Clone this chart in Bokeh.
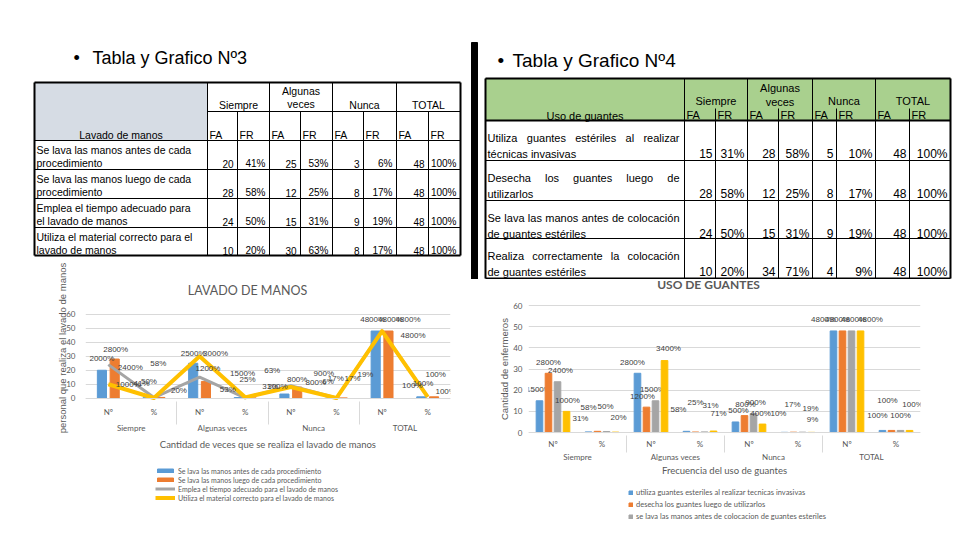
import math
from bokeh.plotting import figure
from bokeh.models import (Range1d, FactorRange, FixedTicker, Label, Legend,
                          LegendItem, ColumnDataSource)
from bokeh.transform import dodge
from bokeh.layouts import row, column
from bokeh.core.properties import value
from bokeh.embed import file_html
from bokeh.resources import INLINE

# ---------------- data ----------------
grupos = ["Siempre", "Algunas veces", "Nunca", "TOTAL"]
grupos_tabla = [["Siempre"], ["Algunas", "veces"], ["Nunca"], ["TOTAL"]]
subcats = ["Nº", "%"]
col_heads = ["FA", "FR"]

titulo3 = "Tabla y Grafico Nº3"
titulo4 = "Tabla y Grafico Nº4"

lav_header = "Lavado de manos"
lav_rows = [
    ["Se lava las manos antes de cada", "procedimiento"],
    ["Se lava las manos luego de cada", "procedimiento"],
    ["Emplea el tiempo adecuado para", "el lavado de manos"],
    ["Utiliza el material correcto para el", "lavado de manos"],
]
lav_series = [
    "Se lava las manos antes de cada procedimiento",
    "Se lava las manos luego de cada procedimiento",
    "Emplea el tiempo adecuado para el lavado de manos",
    "Utiliza el material correcto para el lavado de manos",
]
lav_siempre_fa = [20, 28, 24, 10]
lav_siempre_fr = [41, 58, 50, 20]
lav_algunas_fa = [25, 12, 15, 30]
lav_algunas_fr = [53, 25, 31, 63]
lav_nunca_fa = [3, 8, 9, 8]
lav_nunca_fr = [6, 17, 19, 17]
lav_total_fa = [48, 48, 48, 48]
lav_total_fr = [100, 100, 100, 100]
lav_chart_title = "LAVADO DE MANOS"
lav_ylabel = "personal que realiza el lavado de manos"
lav_xlabel = "Cantidad de veces que se realiza el lavado de manos"

guan_header = "Uso de guantes"
guan_rows = [
    ["Utiliza guantes estériles al realizar", "técnicas invasivas"],
    ["Desecha los guantes luego de", "utilizarlos"],
    ["Se lava las manos antes de colocación", "de guantes estériles"],
    ["Realiza correctamente la colocación", "de guantes estériles"],
]
guan_series = [
    "utiliza guantes esteriles al realizar tecnicas invasivas",
    "desecha los guantes luego de utilizarlos",
    "se lava las manos antes de colocacion de guantes esteriles",
    "realiza correctamente la colocacion de guantes esteriles",
]
guan_siempre_fa = [15, 28, 24, 10]
guan_siempre_fr = [31, 58, 50, 20]
guan_algunas_fa = [28, 12, 15, 34]
guan_algunas_fr = [58, 25, 31, 71]
guan_nunca_fa = [5, 8, 9, 4]
guan_nunca_fr = [10, 17, 19, 9]
guan_total_fa = [48, 48, 48, 48]
guan_total_fr = [100, 100, 100, 100]
guan_chart_title = "USO DE GUANTES"
guan_ylabel = "Cantidad de enfermeros"
guan_xlabel = "Frecuencia del uso de guantes"

y_ticks = [0, 10, 20, 30, 40, 50, 60]

# ---------------- styles ----------------
BLUE, ORANGE, GRAY, YELLOW = "#5b9bd5", "#ed7d31", "#a5a5a5", "#ffc000"
SERIES_COLORS = [BLUE, ORANGE, GRAY, YELLOW]
TXT = "#595959"
ARIAL = value("Liberation Sans")
NBSP = "\u00a0"

# data-label offsets in pixels (dx, dy) per series, per category
lav_lbl_off = [
    [(0, -12), (-6, -14), (0, -10), (-11, -8), (-7, -8), (-2, -17), (-3, -12), (-9, -11)],
    [(1, -10), (-2, -34), (2, -13), (-4, -18), (0, -8), (-7, -20), (2, -12), (-11, -13)],
    [(22, 3), (-5, -16), (43, -4), (25, -11), (33, -12), (29, -23), (26, -12), (8, -22)],
    [(20, 0), (25, -7), (16, -3), (27, -27), (25, -5), (16, -20), (31, 4), (18, -5)],
]
guan_lbl_off = [
    [(-1, -11), (-8, -13), (-5, -11), (-8, -22), (3, -11), (-6, -19), (-10, -11), (-5, -15)],
    [(0, -11), (-9, -24), (-4, -11), (0, -30), (1, -11), (-1, -28), (-5, -11), (-4, -30)],
    [(3, -11), (-1, -25), (-3, -11), (6, -26), (2, -11), (8, -24), (2, -11), (0, -15)],
    [(1, -11), (3, -15), (4, -12), (5, -18), (-2, -11), (1, -13), (10, -11), (3, -26)],
]

# Arial-like advance widths (em) for justification
AW = dict(zip("abcdefghijklmnopqrstuvwxyz",
              [.556, .556, .5, .556, .556, .278, .556, .556, .222, .222, .5, .222, .833,
               .556, .556, .556, .556, .333, .5, .278, .556, .5, .722, .5, .5, .5]))
AW.update({" ": .278, "é": .556, "á": .556, "ó": .556, "í": .278, "S": .667,
           "U": .722, "D": .722, "R": .722})


def tw(s, fs):
    return sum(AW.get(c, .6) for c in s) * fs


def canvas(x0, x1, y0, y1):
    p = figure(x_range=Range1d(x0, x1), y_range=Range1d(y1, y0),
               width=x1 - x0, height=y1 - y0, output_backend="svg",
               toolbar_location=None, min_border=0, x_axis_type=None,
               y_axis_type=None, outline_line_color=None, frame_align=False)
    p.grid.visible = False
    return p


def hline(p, y, x0, x1, w=1):
    p.segment(x0=[x0], y0=[y], x1=[x1], y1=[y], line_color="black", line_width=w)


def vline(p, x, y0, y1, w=1):
    p.segment(x0=[x], y0=[y0], x1=[x], y1=[y1], line_color="black", line_width=w)


# ================= left top: title + table 3 =================
lt = canvas(0, 470, 0, 258)
lt.text(x=[73], y=[57], text=["•"], text_font=ARIAL, text_font_size="18px",
        text_baseline="middle")
lt.text(x=[92], y=[57], text=[titulo3], text_font=ARIAL, text_font_size="18px",
        text_baseline="middle")

c3 = [34, 207, 237, 269, 300, 332, 363, 396, 428, 460]
r3 = [82, 111, 140, 169, 198, 227, 255]
lt.quad(left=[c3[0]], right=[c3[1]], top=[r3[0]], bottom=[r3[2]], color="#d6dce4")
for y in r3[2:-1]:
    hline(lt, y, c3[0], c3[-1])
hline(lt, r3[1], c3[1], c3[-1])
hline(lt, r3[0], c3[0], c3[-1], 2)
hline(lt, r3[-1], c3[0], c3[-1], 2)
vline(lt, c3[0], r3[0], r3[-1], 2)
vline(lt, c3[-1], r3[0], r3[-1], 2)
for k in (1, 3, 5, 7):
    vline(lt, c3[k], r3[0], r3[-1])
for k in (2, 4, 6, 8):
    vline(lt, c3[k], r3[1], r3[-1])

for g, lines in enumerate(grupos_tabla):
    cx = (c3[1 + 2 * g] + c3[3 + 2 * g]) / 2
    if len(lines) == 1:
        lt.text(x=[cx], y=[104], text=lines, text_font=ARIAL, text_font_size="10.5px",
                text_align="center", text_baseline="middle")
    else:
        lt.text(x=[cx, cx], y=[90, 103], text=lines, text_font=ARIAL,
                text_font_size="10.5px", text_align="center", text_baseline="middle")
lt.text(x=[(c3[0] + c3[1]) / 2], y=[134], text=[lav_header], text_font=ARIAL,
        text_font_size="10.5px", text_align="center", text_baseline="middle")
lt.text(x=[c3[j + 1] + 2 for j in range(8)], y=[134] * 8,
        text=[col_heads[j % 2] for j in range(8)], text_font=ARIAL,
        text_font_size="10.5px", text_baseline="middle")
xs, ys, ts = [], [], []
for i, (l1, l2) in enumerate(lav_rows):
    top = r3[i + 2]
    xs += [36, 36]
    ys += [top + 9, top + 22]
    ts += [l1, l2]
lt.text(x=xs, y=ys, text=ts, text_font=ARIAL, text_font_size="10.5px",
        text_baseline="middle")
lav_cols = [lav_siempre_fa, lav_siempre_fr, lav_algunas_fa, lav_algunas_fr,
            lav_nunca_fa, lav_nunca_fr, lav_total_fa, lav_total_fr]
xs, ys, ts = [], [], []
for j, arr in enumerate(lav_cols):
    for i, v in enumerate(arr):
        xs.append(c3[j + 2] - 4)
        ys.append(r3[i + 2] + 23)
        ts.append(f"{v}%" if j % 2 else str(v))
lt.text(x=xs, y=ys, text=ts, text_font=ARIAL, text_font_size="10px",
        text_align="right", text_baseline="middle")

# ================= right top: title + table 4 =================
rt = canvas(470, 960, 0, 279)
rt.quad(left=[471], right=[477], top=[42], bottom=[279], color="black")
rt.text(x=[497], y=[60], text=["•"], text_font=ARIAL, text_font_size="19px",
        text_baseline="middle")
rt.text(x=[512], y=[60], text=[titulo4], text_font=ARIAL, text_font_size="19px",
        text_baseline="middle")

c4 = [485, 684, 715, 747, 778, 812, 836, 875, 909, 950]
r4 = [78, 120, 160, 200, 238, 278]
rt.quad(left=[c4[0]], right=[c4[-1]], top=[r4[0]], bottom=[r4[1]], color="#a9d08e")
for y in r4[2:-1]:
    hline(rt, y, c4[0], c4[-1])
for y in (r4[0], r4[1], r4[-1]):
    hline(rt, y, c4[0], c4[-1], 2)
vline(rt, c4[0], r4[0], r4[-1], 2)
vline(rt, c4[-1], r4[0], r4[-1], 2)
for k in (1, 3, 5, 7):
    vline(rt, c4[k], r4[0], r4[-1])
for k in (2, 4, 6, 8):
    vline(rt, c4[k], 108, r4[-1])

for g, lines in enumerate(grupos_tabla):
    cx = (c4[1 + 2 * g] + c4[3 + 2 * g]) / 2
    if len(lines) == 1:
        rt.text(x=[cx], y=[100], text=lines, text_font=ARIAL, text_font_size="11px",
                text_align="center", text_baseline="middle")
    else:
        rt.text(x=[cx, cx], y=[87, 101], text=lines, text_font=ARIAL,
                text_font_size="11px", text_align="center", text_baseline="middle")
rt.text(x=[(c4[0] + c4[1]) / 2], y=[115], text=[guan_header], text_font=ARIAL,
        text_font_size="11px", text_align="center", text_baseline="middle")
rt.text(x=[c4[j + 1] + 2 for j in range(8)], y=[114] * 8,
        text=[col_heads[j % 2] for j in range(8)], text_font=ARIAL,
        text_font_size="11px", text_baseline="middle")

FS4 = 11
xs, ys, ts = [], [], []
jx0, jx1 = 487, 679
for i, (l1, l2) in enumerate(guan_rows):
    top = r4[i + 1]
    words = l1.split()
    wsum = sum(tw(w, FS4) for w in words)
    gap = (jx1 - jx0 - wsum) / (len(words) - 1)
    x = jx0
    for w in words:
        xs.append(x)
        ys.append(top + 17)
        ts.append(w)
        x += tw(w, FS4) + gap
    xs.append(jx0)
    ys.append(top + 33)
    ts.append(l2)
rt.text(x=xs, y=ys, text=ts, text_font=ARIAL, text_font_size=f"{FS4}px",
        text_baseline="middle")
guan_cols = [guan_siempre_fa, guan_siempre_fr, guan_algunas_fa, guan_algunas_fr,
             guan_nunca_fa, guan_nunca_fr, guan_total_fa, guan_total_fr]
xs, ys, ts = [], [], []
for j, arr in enumerate(guan_cols):
    for i, v in enumerate(arr):
        xs.append(c4[j + 2] - 3)
        ys.append(r4[i + 1] + 33)
        ts.append(f"{v}%" if j % 2 else str(v))
rt.text(x=xs, y=ys, text=ts, text_font=ARIAL, text_font_size="12px",
        text_align="right", text_baseline="middle")

# ================= charts =================
factors = [(g, s) for g in grupos for s in subcats]


def serie(cols, i):
    return [arr[i] / 100 if j % 2 else arr[i] for j, arr in enumerate(cols)]


def fmt(v):
    return f"{round(v * 100):d}%"


def chart(width, height, ml, mr, ystart, yend, standoff, ylab, ypad, ystand,
          xlab, xstand, xlstand):
    p = figure(x_range=FactorRange(*factors, factor_padding=0, group_padding=0,
                                   range_padding=0),
               y_range=Range1d(ystart, yend), width=width, height=height,
               min_border_left=ml, min_border_right=mr, min_border_top=0,
               min_border_bottom=0, output_backend="svg", toolbar_location=None,
               outline_line_color=None, frame_align=False)
    p.xgrid.visible = False
    p.ygrid.ticker = FixedTicker(ticks=y_ticks)
    p.ygrid.grid_line_color = "#d9d9d9"
    p.yaxis.ticker = FixedTicker(ticks=y_ticks)
    p.yaxis.axis_line_color = None
    p.yaxis.major_tick_line_color = None
    p.yaxis.minor_tick_line_color = None
    p.yaxis.major_label_standoff = standoff
    p.yaxis.major_label_text_font_size = "8px"
    p.yaxis.major_label_text_color = TXT
    p.yaxis.major_label_text_font = "Lato"
    p.yaxis.axis_label = NBSP * ypad + ylab
    p.yaxis.axis_label_standoff = ystand
    p.yaxis.axis_label_text_font = "Liberation Sans"
    p.yaxis.axis_label_text_font_size = "9.5px"
    p.yaxis.axis_label_text_font_style = "normal"
    p.yaxis.axis_label_text_color = TXT
    xa = p.xaxis[0]
    xa.fixed_location = 0
    xa.axis_line_color = "#d9d9d9"
    xa.major_tick_line_color = None
    xa.minor_tick_line_color = None
    xa.major_label_text_font_size = "8px"
    xa.major_label_text_color = TXT
    xa.major_label_text_font = "Lato"
    xa.major_label_standoff = xlstand
    xa.group_text_font_size = "8px"
    xa.group_text_color = TXT
    xa.group_text_font = "Lato"
    xa.group_text_font_style = "normal"
    xa.separator_line_color = "#d9d9d9"
    xa.separator_line_width = 1
    xa.axis_label = xlab
    xa.axis_label_standoff = xstand
    xa.axis_label_text_font = "Lato"
    xa.axis_label_text_font_size = "9.5px"
    xa.axis_label_text_font_style = "normal"
    xa.axis_label_text_color = TXT
    return p


def add_labels(p, src, off):
    p.text(x=dodge("x", off, range=p.x_range), y="top", text="lbl", x_offset="dx",
           y_offset="dy", source=src, text_font=ARIAL, text_font_size="8px",
           text_color="#404040", text_align="center", text_baseline="middle")


def mk_src(vals, offs):
    return ColumnDataSource(dict(x=factors, top=vals, lbl=[fmt(v) for v in vals],
                                 dx=[o[0] for o in offs], dy=[o[1] for o in offs]))


def flabel(p, text, x, y, size, bold=False):
    p.add_layout(Label(x=x, y=y, x_units="screen", y_units="screen", text=text,
                       text_font="Lato", text_font_size=size,
                       text_color=TXT, text_align="center", text_baseline="middle",
                       text_font_style="bold" if bold else "normal"))


# ---- chart 3 (left): page y 258..540, zero at 397.7, 1.4 px per unit ----
lc = chart(470, 282, 85, 20, -101.6, 99.8, 4, lav_ylabel, 39, -5, lav_xlabel, 2, 3)
srcs = [mk_src(serie(lav_cols, i), lav_lbl_off[i]) for i in range(4)]
rb = lc.vbar(x=dodge("x", -0.14, range=lc.x_range), top="top", width=0.2,
             source=srcs[0], color=BLUE)
ro = lc.vbar(x=dodge("x", 0.14, range=lc.x_range), top="top", width=0.2,
             source=srcs[1], color=ORANGE)
rg = lc.line(x="x", y="top", source=srcs[2], line_color=GRAY, line_width=3,
             line_join="round")
ry = lc.line(x="x", y="top", source=srcs[3], line_color=YELLOW, line_width=4,
             line_join="round")
add_labels(lc, srcs[0], -0.14)
add_labels(lc, srcs[1], 0.14)
add_labels(lc, srcs[2], 0)
add_labels(lc, srcs[3], 0)
flabel(lc, lav_chart_title, 162, 250, "12.5px")
leg3 = Legend(items=[LegendItem(label=lav_series[k], renderers=[r])
                     for k, r in enumerate([rb, ro, rg, ry])],
              location=(70, 38), glyph_width=20, glyph_height=5, label_height=9,
              label_text_font_size="7px", label_text_font="Lato",
              label_text_color=TXT, spacing=0, padding=0, margin=0,
              label_standoff=3, border_line_color=None, background_fill_alpha=0)
lc.add_layout(leg3)

# ---- chart 4 (right): page y 279..540, zero at 432, 2.117 px per unit ----
rc = chart(490, 261, 58, 40, -51.0, 72.3, 0, guan_ylabel, 31, 0, guan_xlabel, 0, 0)
offs4 = [-0.276, -0.092, 0.092, 0.276]
rends = []
for i in range(4):
    s = mk_src(serie(guan_cols, i), guan_lbl_off[i])
    rends.append(rc.vbar(x=dodge("x", offs4[i], range=rc.x_range), top="top",
                         width=0.135, source=s, color=SERIES_COLORS[i]))
    add_labels(rc, s, offs4[i])
flabel(rc, guan_chart_title, 180, 256, "12px", bold=True)
leg4 = Legend(items=[LegendItem(label=guan_series[k], renderers=[rends[k]])
                     for k in range(3)],
              location=(100, 18), glyph_width=5, glyph_height=5, label_height=12,
              label_text_font_size="7.5px", label_text_font="Lato",
              label_text_color=TXT, spacing=0, padding=0, margin=0,
              label_standoff=3, border_line_color=None, background_fill_alpha=0)
rc.add_layout(leg4)

layout = row(column(lt, lc), column(rt, rc))
open("out.html", "w").write(file_html(layout, INLINE))
